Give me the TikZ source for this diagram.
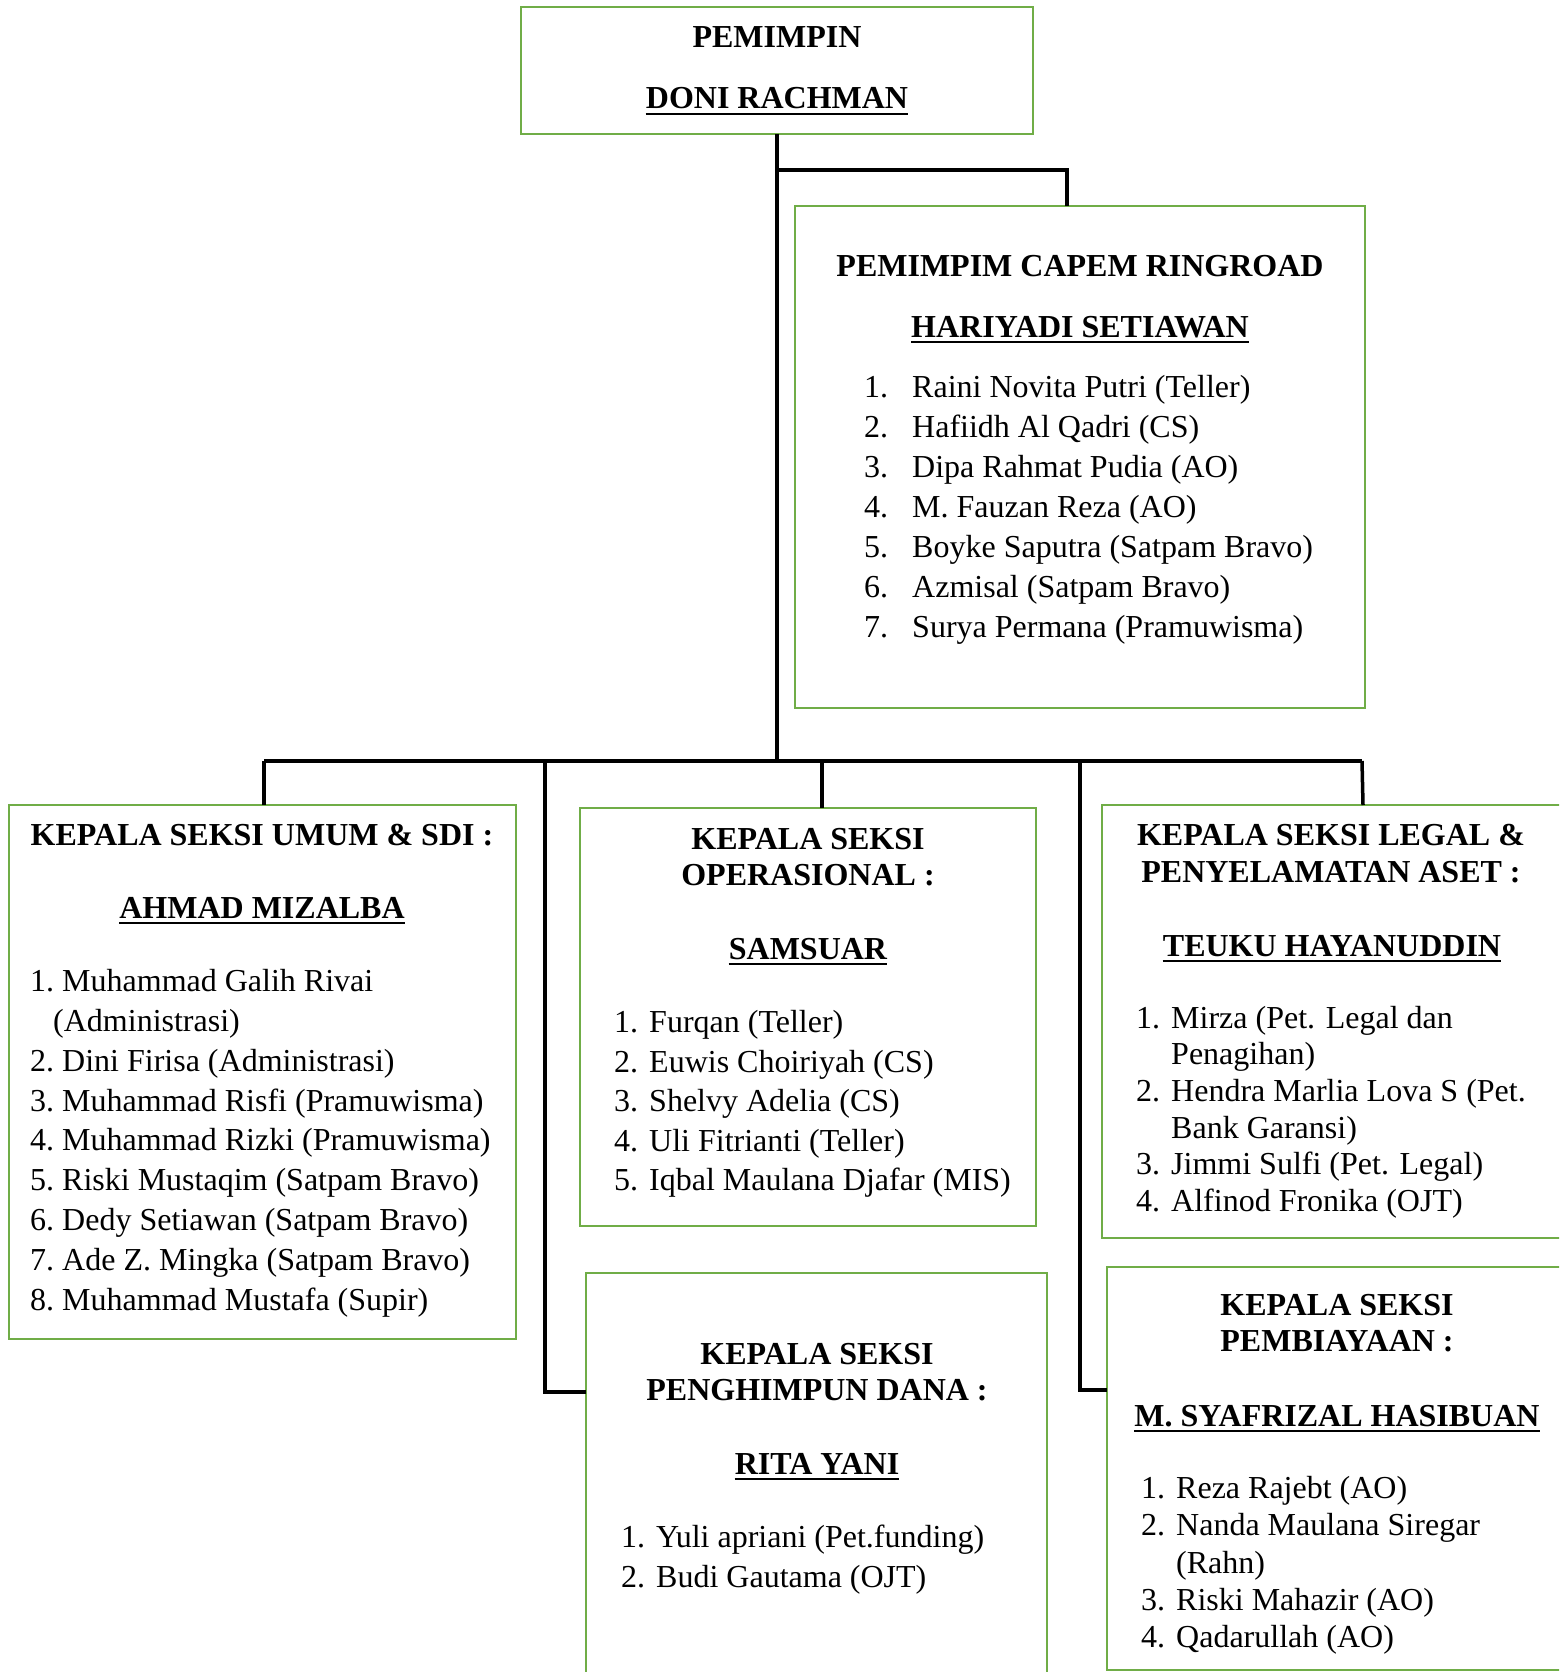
\documentclass[tikz,border=0pt]{standalone}
\usepackage{fontspec}
\setmainfont{Liberation Serif}[Ligatures=CommonOff]
\definecolor{bgreen}{RGB}{112,173,71}
\newcommand\bigfont{\fontsize{32}{38}\selectfont}
\tikzset{
  box/.style={draw=bgreen, line width=2.5pt, inner sep=0pt, outer sep=0pt, anchor=north west},
  conn/.style={draw=black, line width=3.5pt},
  ttl/.style={font=\bigfont\bfseries, inner sep=0pt, anchor=base},
  itm/.style={font=\bigfont, inner sep=0pt, anchor=base west},
  uline/.style={line width=2.5pt},
}
\newcommand\Ttl[3]{\node[ttl] (#1) at (#2) {#3};}
\newcommand\Uttl[3]{\node[ttl] (#1) at (#2) {#3};
  \draw[uline] ([yshift=-5pt]#1.base west) -- ([yshift=-5pt]#1.base east);}
\newcommand\Item[6]{\node[itm] (#1n) at (#2,#4) {#5.}; \node[itm] (#1) at (#3,#4) {#6};}
\newcommand\Cont[4]{\node[itm] (#1) at (#2,#3) {#4};}
\begin{document}
\begin{tikzpicture}[x=1pt,y=-1pt]
\useasboundingbox (0,0) rectangle (1559,1672);
\clip (0,0) rectangle (1559,1672);
\fill[white] (0,0) rectangle (1559,1672);

% boxes
\node[box, minimum width=512pt, minimum height=127pt] (top) at (521,7) {};
\node[box, minimum width=570pt, minimum height=502pt] (capem) at (795,206) {};
\node[box, minimum width=507pt, minimum height=534pt] (umum) at (9,805) {};
\node[box, minimum width=456pt, minimum height=418pt] (oper) at (580,808) {};
\node[box, minimum width=500pt, minimum height=433pt] (legal) at (1102,805) {};
\node[box, minimum width=461pt, minimum height=450pt] (peng) at (586,1273) {};
\node[box, minimum width=500pt, minimum height=403pt] (pemb) at (1107,1267) {};

% connector points
\coordinate (j1) at (777,170);
\coordinate (capin) at (1067,206);
\coordinate (bus) at (777,761);
\coordinate (busL) at (264,761);
\coordinate (busR) at (1362,761);
\coordinate (b2) at (545,761);
\coordinate (b3) at (822,761);
\coordinate (b4) at (1080,761);
\coordinate (h2) at (586,1392);
\coordinate (h4) at (1107,1390);
\coordinate (operin) at (822,808);
\coordinate (legalin) at (1363,805);

\draw[conn] (top.south) -- (bus);
\draw[conn] (j1) -| (capin);
\draw[conn] (busL) -- (busR);
\draw[conn] (busL) -- (umum.north -| busL);
\draw[conn] (b2) |- (h2);
\draw[conn] (b3) -- (operin);
\draw[conn] (b4) |- (h4);
\draw[conn] (busR) -- (legalin);

% top
\Ttl{t1}{777,48}{PEMIMPIN}
\Uttl{t2}{777,109}{DONI RACHMAN}

% capem
\Ttl{c1}{1080,276.5}{PEMIMPIM CAPEM RINGROAD}
\Uttl{c2}{1080,337}{HARIYADI SETIAWAN}
\Item{ca}{864}{912}{397}{1}{Raini Novita Putri (Teller)}
\Item{cb}{864}{912}{437}{2}{Hafiidh Al Qadri (CS)}
\Item{cc}{864}{912}{477}{3}{Dipa Rahmat Pudia (AO)}
\Item{cd}{864}{912}{517}{4}{M. Fauzan Reza (AO)}
\Item{ce}{864}{912}{557}{5}{Boyke Saputra (Satpam Bravo)}
\Item{cf}{864}{912}{597}{6}{Azmisal (Satpam Bravo)}
\Item{cg}{864}{912}{637}{7}{Surya Permana (Pramuwisma)}

% umum
\Ttl{u1}{262,845}{KEPALA SEKSI UMUM \& SDI :}
\Uttl{u2}{262,918}{AHMAD MIZALBA}
\Item{ua}{30}{62}{991}{1}{Muhammad Galih Rivai}
\Cont{uax}{53}{1031}{(Administrasi)}
\Item{ub}{30}{62}{1071}{2}{Dini Firisa (Administrasi)}
\Item{uc}{30}{62}{1111}{3}{Muhammad Risfi (Pramuwisma)}
\Item{ud}{30}{62}{1150.6}{4}{Muhammad Rizki (Pramuwisma)}
\Item{ue}{30}{62}{1190.5}{5}{Riski Mustaqim (Satpam Bravo)}
\Item{uf}{30}{62}{1230.4}{6}{Dedy Setiawan (Satpam Bravo)}
\Item{ug}{30}{62}{1270.3}{7}{Ade Z. Mingka (Satpam Bravo)}
\Item{uh}{30}{62}{1310.2}{8}{Muhammad Mustafa (Supir)}

% operasional
\Ttl{o1}{808,849}{KEPALA SEKSI}
\Ttl{o2}{808,885}{OPERASIONAL :}
\Uttl{o3}{808,959}{SAMSUAR}
\Item{oa}{614}{649}{1032.5}{1}{Furqan (Teller)}
\Item{ob}{614}{649}{1072}{2}{Euwis Choiriyah (CS)}
\Item{oc}{614}{649}{1111.5}{3}{Shelvy Adelia (CS)}
\Item{od}{614}{649}{1151}{4}{Uli Fitrianti (Teller)}
\Item{oe}{614}{649}{1190.5}{5}{Iqbal Maulana Djafar (MIS)}

% legal
\Ttl{l1}{1331,845}{KEPALA SEKSI LEGAL \&}
\Ttl{l2}{1331,882}{PENYELAMATAN ASET :}
\Uttl{l3}{1332,956}{TEUKU HAYANUDDIN}
\Item{la}{1136}{1171}{1028}{1}{Mirza (Pet. Legal dan}
\Cont{lax}{1171}{1064.7}{Penagihan)}
\Item{lb}{1136}{1171}{1101.4}{2}{Hendra Marlia Lova S (Pet.}
\Cont{lbx}{1171}{1138}{Bank Garansi)}
\Item{lc}{1136}{1171}{1174.8}{3}{Jimmi Sulfi (Pet. Legal)}
\Item{ld}{1136}{1171}{1211.5}{4}{Alfinod Fronika (OJT)}

% penghimpun
\Ttl{p1}{817,1364}{KEPALA SEKSI}
\Ttl{p2}{817,1400}{PENGHIMPUN DANA :}
\Uttl{p3}{817,1474}{RITA YANI}
\Item{pa}{621}{656}{1547.6}{1}{Yuli apriani (Pet.funding)}
\Item{pb}{621}{656}{1587}{2}{Budi Gautama (OJT)}

% pembiayaan
\Ttl{m1}{1337,1315}{KEPALA SEKSI}
\Ttl{m2}{1337,1351}{PEMBIAYAAN :}
\Uttl{m3}{1337,1426}{M. SYAFRIZAL HASIBUAN}
\Item{ma}{1141}{1176}{1498.5}{1}{Reza Rajebt (AO)}
\Item{mb}{1141}{1176}{1535.8}{2}{Nanda Maulana Siregar}
\Cont{mbx}{1176}{1573}{(Rahn)}
\Item{mc}{1141}{1176}{1610.4}{3}{Riski Mahazir (AO)}
\Item{md}{1141}{1176}{1647.7}{4}{Qadarullah (AO)}
\end{tikzpicture}
\end{document}
